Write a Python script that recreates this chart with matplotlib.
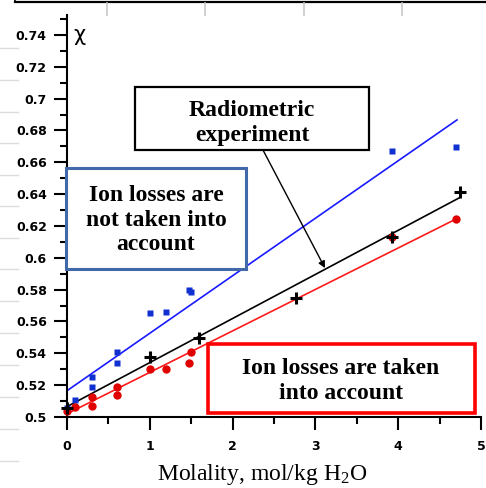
import matplotlib.pyplot as plt
from matplotlib.lines import Line2D
from matplotlib.ticker import MultipleLocator, FormatStrFormatter

plt.rcParams["mathtext.fontset"] = "custom"
plt.rcParams["mathtext.rm"] = "Liberation Serif"
plt.rcParams["mathtext.it"] = "Liberation Serif:italic"

# data
blue_x = [0.0, 0.1, 0.3, 0.3, 0.6, 0.6, 1.0, 1.2, 1.47, 1.5, 3.93, 4.7]
blue_y = [0.5055, 0.5107, 0.5251, 0.519, 0.5408, 0.534, 0.5653, 0.566, 0.5796, 0.5787, 0.6672, 0.6697]

red_x = [0.0, 0.1, 0.3, 0.3, 0.6, 0.6, 1.0, 1.2, 1.47, 1.5, 3.93, 4.7]
red_y = [0.504, 0.5065, 0.5128, 0.507, 0.5189, 0.514, 0.5303, 0.5303, 0.5339, 0.5408, 0.6128, 0.6244]

black_x = [0.0, 1.0, 1.6, 2.76, 3.93, 4.75]
black_y = [0.5055, 0.5377, 0.5498, 0.5745, 0.6129, 0.6415]

# fitted lines (end points)
blue_fit_x = [0.0, 4.71]
blue_fit_y = [0.5165, 0.6866]
black_fit_x = [0.0, 4.75]
black_fit_y = [0.5065, 0.638]
red_fit_x = [0.0, 4.7]
red_fit_y = [0.502, 0.6244]

W, H = 486, 488
fig = plt.figure(figsize=(W / 100, H / 100), dpi=100)
ax = fig.add_axes([67 / W, (H - 417) / H, 414 / W, 402 / H])

# screenshot leftovers: frame line and grey grid marks
fig.add_artist(Line2D([15 / W, 1], [1 - 2 / H, 1 - 2 / H], color="black", lw=1.6))
fig.add_artist(Line2D([15 / W, 15 / W], [1 - 2 / H, 1], color="black", lw=1.2))
for px in [107, 205, 304, 402]:
    fig.add_artist(Line2D([px / W, px / W], [1 - 15 / H, 1 - 3 / H], color="#c8c8c8", lw=1.2))
for py in [48, 80, 112, 143, 175, 206, 238, 269, 301, 333, 365, 397, 429, 461]:
    fig.add_artist(Line2D([0, 18 / W], [1 - py / H, 1 - py / H], color="#dcdcdc", lw=1.0))

ax.plot(blue_fit_x, blue_fit_y, color="#1a1aff", lw=1.2, zorder=2)
ax.plot(black_fit_x, black_fit_y, color="black", lw=1.2, zorder=2)
ax.plot(red_fit_x, red_fit_y, color="#ff1a1a", lw=1.2, zorder=2)

ax.plot(blue_x, blue_y, "s", color="#1030d0", ms=5, mec="none", zorder=3, clip_on=False)
ax.plot(red_x, red_y, "o", color="#e00000", ms=6, mec="none", zorder=3, clip_on=False)
ax.plot(black_x, black_y, "+", color="black", ms=9, mew=2.2, zorder=4, clip_on=False)

ax.set_xlim(0, 5)
ax.set_ylim(0.5, 0.7525)
for s in ["top", "right"]:
    ax.spines[s].set_visible(False)
for s in ["left", "bottom"]:
    ax.spines[s].set_linewidth(1.5)

ax.xaxis.set_major_locator(MultipleLocator(1))
ax.xaxis.set_minor_locator(MultipleLocator(0.5))
ax.yaxis.set_major_locator(MultipleLocator(0.02))
ax.yaxis.set_minor_locator(MultipleLocator(0.01))
ax.yaxis.set_major_formatter(FormatStrFormatter("%g"))
ax.tick_params(which="major", direction="out", length=9.5, width=1.5,
               labelsize=9, color="black")
ax.tick_params(axis="y", which="major", pad=5)
ax.tick_params(axis="x", which="major", pad=7)
ax.tick_params(which="minor", direction="out", length=5, width=1.5, color="black")
for lab in ax.get_xticklabels() + ax.get_yticklabels():
    lab.set_fontweight("bold")
    lab.set_family("DejaVu Sans")

ax.text(0.15, 0.74, "χ", fontsize=15, family="DejaVu Sans", va="center", ha="center")

fig.text(262 / W, 1 - 480 / H, "Molality, mol/kg H$_2$O", fontsize=17,
         family="Liberation Serif", ha="center", va="baseline")

serif_bold = dict(family="Liberation Serif", fontweight="bold", fontsize=17,
                  ha="center", va="center", linespacing=1.2)

# boxes drawn in pixel coords of the figure
def box(x0, y0, x1, y1, color, lw):
    r = plt.Rectangle((x0 / W, 1 - y1 / H), (x1 - x0) / W, (y1 - y0) / H,
                      transform=fig.transFigure, fill=True, facecolor="white",
                      edgecolor=color, lw=lw, zorder=5)
    fig.add_artist(r)

box(135, 87, 369, 150, "black", 1.6)
fig.text(252 / W, 1 - 123 / H, "Radiometric\nexperiment", zorder=6, **serif_bold)

box(66, 168, 246, 269, "#4168a8", 2.2)
fig.text(156 / W, 1 - 220 / H, "Ion losses are\nnot taken into\naccount", zorder=6, **serif_bold)

box(208, 344, 475, 413, "#ff0000", 2.6)
fig.text(341 / W, 1 - 381 / H, "Ion losses are taken\ninto account", zorder=6, **serif_bold)

# arrow from the radiometric box to the black line
ax.annotate("", xy=(3.116, 0.5935), xytext=(2.367, 0.6677),
            arrowprops=dict(arrowstyle="-|>", color="black", lw=1.0,
                            mutation_scale=10, shrinkA=0, shrinkB=0), zorder=6)

fig.savefig("out.png", dpi=100)
